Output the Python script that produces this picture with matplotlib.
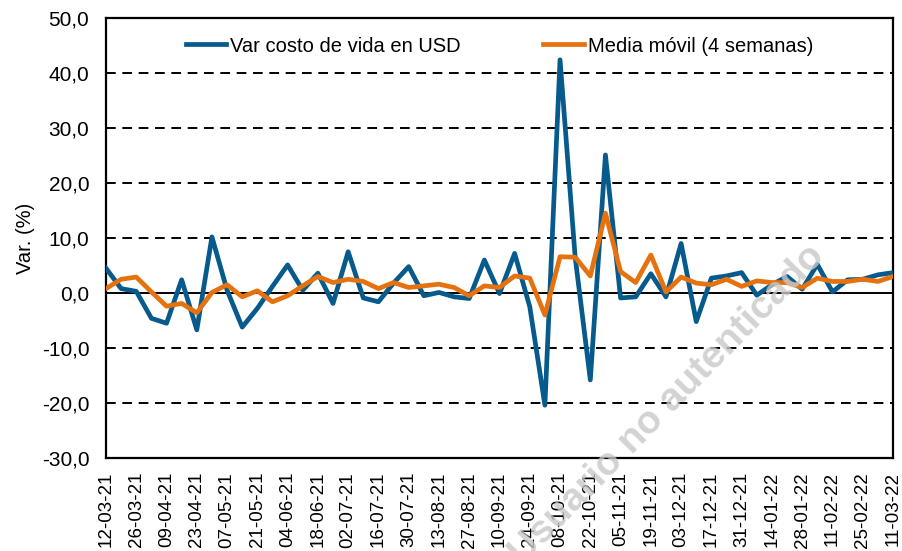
import matplotlib
matplotlib.use("Agg")
import matplotlib.pyplot as plt
import numpy as np

plt.rcParams['font.family'] = ['Liberation Sans', 'DejaVu Sans']

fechas = ["12-03-21", "19-03-21", "26-03-21", "02-04-21", "09-04-21", "16-04-21", "23-04-21",
          "30-04-21", "07-05-21", "14-05-21", "21-05-21", "28-05-21", "04-06-21", "11-06-21",
          "18-06-21", "25-06-21", "02-07-21", "09-07-21", "16-07-21", "23-07-21", "30-07-21",
          "06-08-21", "13-08-21", "20-08-21", "27-08-21", "03-09-21", "10-09-21", "17-09-21",
          "24-09-21", "01-10-21", "08-10-21", "15-10-21", "22-10-21", "29-10-21", "05-11-21",
          "12-11-21", "19-11-21", "26-11-21", "03-12-21", "10-12-21", "17-12-21", "24-12-21",
          "31-12-21", "07-01-22", "14-01-22", "21-01-22", "28-01-22", "04-02-22", "11-02-22",
          "18-02-22", "25-02-22", "04-03-22", "11-03-22"]

var_costo = [4.5, 0.8, 0.3, -4.6, -5.5, 2.4, -6.7, 10.2, 0.5, -6.2, -2.8, 1.2, 5.1,
             0.5, 3.6, -1.9, 7.5, -0.9, -1.6, 1.8, 4.8, -0.5, 0.1, -0.7, -1.0, 6.0, -0.1,
             7.2, -2.5, -20.4, 42.4, 6.5, -15.8, 25.1, -0.9, -0.7, 3.5, -0.7, 9.0, -5.2,
             2.7, 3.1, 3.7, -0.4, 1.5, 3.0, 0.7, 5.2, 0.2, 2.4, 2.5, 3.3, 3.7]

media_movil = [0.8, 2.5, 2.9, 0.2, -2.4, -1.9, -3.6, 0.1, 1.5, -0.7, 0.4, -1.6, -0.5,
               1.3, 3.0, 1.9, 2.5, 2.1, 0.8, 1.9, 1.0, 1.3, 1.6, 1.0, -0.5, 1.3, 1.0,
               3.1, 2.7, -4.0, 6.6, 6.5, 3.1, 14.5, 3.9, 1.9, 6.9, 0.2, 2.9, 1.8,
               1.5, 2.5, 1.2, 2.2, 1.9, 1.9, 1.0, 2.7, 2.1, 2.1, 2.5, 2.1, 3.0]

y_ticks = [-30, -20, -10, 0, 10, 20, 30, 40, 50]
y_tick_labels = ["-30,0", "-20,0", "-10,0", "0,0", "10,0", "20,0", "30,0", "40,0", "50,0"]

azul = "#065a8c"
naranja = "#e6720f"

fig = plt.figure(figsize=(9.03, 5.51), dpi=100)
ax = fig.add_axes([106/903, 1 - 458/551, 787/903, 440/551])

x = np.arange(len(fechas))

for yv in y_ticks[1:-1]:
    if yv == 0:
        continue
    ax.axhline(yv, color="black", lw=1.4, ls=(0, (5, 3.4)), zorder=1)
ax.axhline(0, color="black", lw=1.4, zorder=2)

ax.plot(x, var_costo, color=azul, lw=3.4, label="Var costo de vida en USD", zorder=4)
ax.plot(x, media_movil, color=naranja, lw=3.4, label="Media móvil (4 semanas)", zorder=5)

ax.set_xlim(0, len(fechas) - 1)
ax.set_ylim(-30, 50)
ax.set_yticks(y_ticks)
ax.set_yticklabels(y_tick_labels, fontsize=15)
ax.set_xticks(x[::2])
ax.set_xticklabels(fechas[::2], rotation=90, fontsize=13.5)
ax.tick_params(axis="both", length=0)
ax.tick_params(axis="y", pad=12)
ax.tick_params(axis="x", pad=10)

for s in ax.spines.values():
    s.set_color("black")
    s.set_linewidth(1.6)

ax.set_ylabel("Var. (%)", fontsize=14.5, labelpad=5)

leg = ax.legend(loc="center", bbox_to_anchor=(0.5, 1 - 28/440), ncol=2, frameon=False,
                fontsize=14.5, handlelength=2.0, handletextpad=0.2, columnspacing=4.1)

fig.text(667/903, 1 - 405/551, "Usuario no autenticado", fontsize=28, fontweight="bold",
         color="#c8c8c8", alpha=0.8, rotation=45.5, ha="center", va="center", zorder=0)

fig.savefig("out.png", dpi=100)
